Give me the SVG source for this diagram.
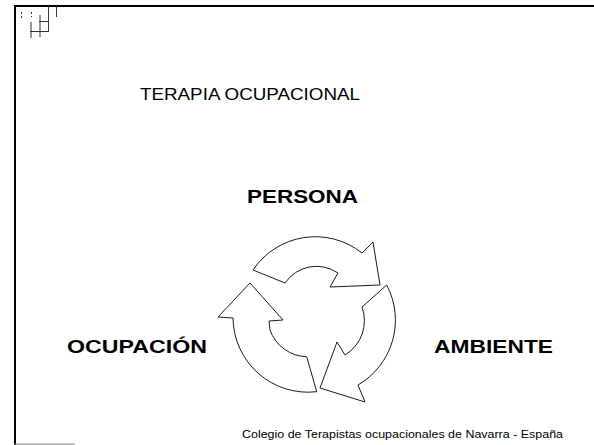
<svg xmlns="http://www.w3.org/2000/svg" width="594" height="445" viewBox="0 0 594 445">
  <style>
    .bg { fill: #ffffff; }
    .frame { stroke: #000; stroke-width: 2; fill: none; }
    .mark { stroke: #333; stroke-width: 1; fill: none; }
    .arrow { fill: #ffffff; stroke: #1a1a1a; stroke-width: 1; stroke-linejoin: miter; }
    .t { font-family: "Liberation Sans", Arial, sans-serif; fill: #000; }
    .lbl { font-size: 18px; font-weight: bold; }
  </style>
  <rect class="bg" x="0" y="0" width="594" height="445"/>
  <g id="frame">
    <path class="frame" d="M15,445 L15,6 L594,6"/>
    <line x1="14" y1="444" x2="75" y2="444" stroke="#888" stroke-width="1"/>
    <g id="corner-mark">
      <line class="mark" x1="48.5" y1="6" x2="48.5" y2="32"/>
      <line class="mark" x1="56.5" y1="6" x2="56.5" y2="17" stroke="#777"/>
      <line class="mark" x1="21.5" y1="12" x2="21.5" y2="20" stroke-dasharray="2 2" stroke="#777"/>
      <line class="mark" x1="31.5" y1="12" x2="31.5" y2="17" stroke-dasharray="2 2" stroke="#777"/>
      <line class="mark" x1="40" y1="15" x2="40" y2="37"/>
      <line class="mark" x1="39" y1="21.5" x2="48.5" y2="21.5"/>
      <line class="mark" x1="30" y1="31.5" x2="48.5" y2="31.5"/>
      <line class="mark" x1="31" y1="22" x2="31" y2="38"/>
    </g>
  </g>
  <g id="title">
    <text class="t" x="140" y="100" font-size="17" textLength="220" lengthAdjust="spacingAndGlyphs">TERAPIA OCUPACIONAL</text>
  </g>
  <g id="persona">
    <text class="t lbl" x="247" y="203" textLength="111" lengthAdjust="spacingAndGlyphs">PERSONA</text>
  </g>
  <g id="ocupacion">
    <text class="t lbl" x="67" y="353" textLength="140" lengthAdjust="spacingAndGlyphs">OCUPACIÓN</text>
  </g>
  <g id="ambiente">
    <text class="t lbl" x="434" y="353" font-size="19" textLength="119" lengthAdjust="spacingAndGlyphs">AMBIENTE</text>
  </g>
  <g id="connectors">
    <path id="arrow-top" class="arrow" d="M253,270 A75,75 0 0 1 362,253 L373,242 L380,285 L330,287 L338,273 A38,38 0 0 0 285,283 Z"/>
    <path id="arrow-right" class="arrow" d="M386.7,285 A75,75 0 0 1 358,385 L365,402 L320,388 L337,342 L345,355 A40,40 0 0 0 362,307 Z"/>
    <path id="arrow-left" class="arrow" d="M316.7,391.7 A75,75 0 0 1 233,318 L218,317 L250,283 L283,320 L269,321 L270,330 A40,40 0 0 0 306.7,356.7 Z"/>
  </g>
  <g id="footer">
    <text class="t" x="242" y="438" font-size="11" textLength="321" lengthAdjust="spacingAndGlyphs">Colegio de Terapistas ocupacionales de Navarra - España</text>
  </g>
</svg>
